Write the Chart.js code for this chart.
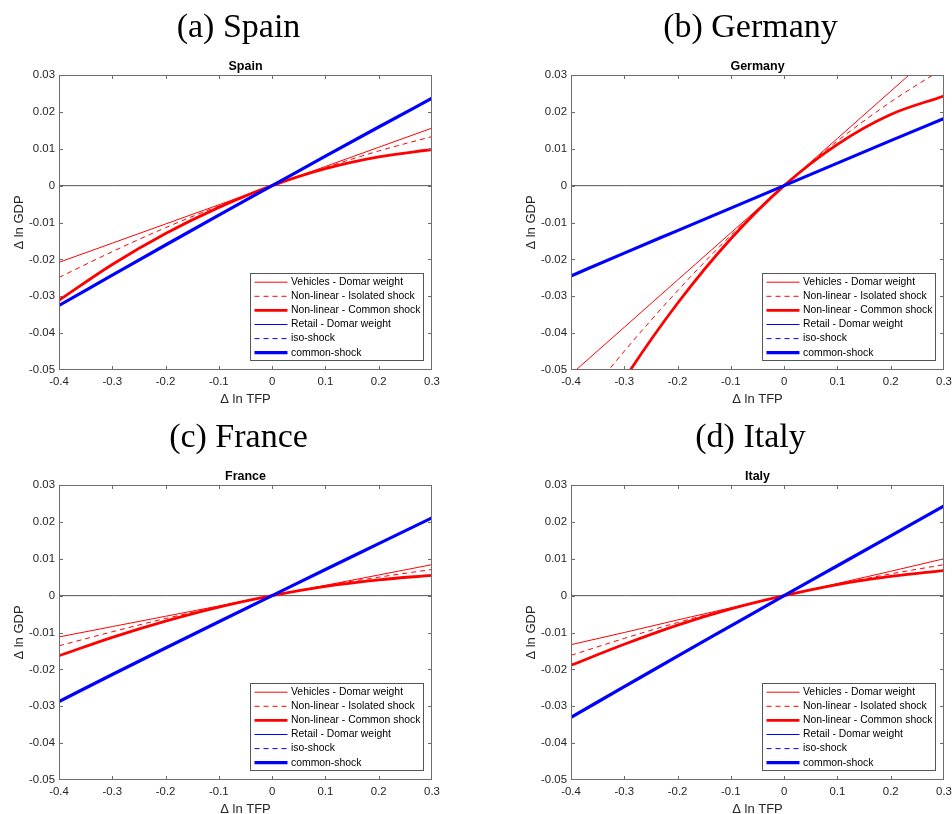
<!DOCTYPE html>
<html>
<head>
<meta charset="utf-8">
<script src="https://cdn.jsdelivr.net/npm/chart.js@4.4.1/dist/chart.umd.min.js"></script>
<style>
  html, body { margin: 0; padding: 0; background: #fff; overflow: hidden; width: 952px; height: 814px; }
  .panel { position: absolute; }
</style>
</head>
<body>
<div class="panel" style="left:0;top:0"><canvas id="spain" width="477" height="407"></canvas></div>
<div class="panel" style="left:512px;top:0"><canvas id="germany" width="477" height="407"></canvas></div>
<div class="panel" style="left:0;top:410px"><canvas id="france" width="477" height="407"></canvas></div>
<div class="panel" style="left:512px;top:410px"><canvas id="italy" width="477" height="407"></canvas></div>
<script>
// x values (shock to ln TFP)
var tfp = [-0.4, -0.3, -0.2, -0.1, 0, 0.1, 0.2, 0.3];

var legendLabels = ["Vehicles - Domar weight", "Non-linear - Isolated shock", "Non-linear - Common shock",
                    "Retail - Domar weight", "iso-shock", "common-shock"];

// Spain
var spainVehDomar    = [-0.0208, -0.0156, -0.0104, -0.0052, 0, 0.0052, 0.0104, 0.0156];
var spainVehIsolated = [-0.0249, -0.0179, -0.0114, -0.0055, 0, 0.0049, 0.0094, 0.0133];
var spainVehCommon   = [-0.0311, -0.0214, -0.0130, -0.0059, 0, 0.0046, 0.0078, 0.0098];
var spainRetDomar    = [-0.0324, -0.0242, -0.0161, -0.0080, 0, 0.0080, 0.0159, 0.0237];
var spainRetIso      = [-0.0324, -0.0242, -0.0161, -0.0080, 0, 0.0080, 0.0159, 0.0237];
var spainRetCommon   = [-0.0325, -0.0243, -0.0161, -0.0080, 0, 0.0080, 0.0159, 0.0237];

// Germany
var germanyVehDomar    = [-0.0512, -0.0384, -0.0256, -0.0128, 0, 0.0128, 0.0256, 0.0384];
var germanyVehIsolated = [-0.0627, -0.0449, -0.0285, -0.0135, 0, 0.0121, 0.0227, 0.0319];
var germanyVehCommon   = [-0.0763, -0.0525, -0.0319, -0.0144, 0, 0.0112, 0.0193, 0.0243];
var germanyRetDomar    = [-0.0245, -0.0183, -0.0122, -0.0061, 0, 0.0061, 0.0122, 0.0182];
var germanyRetIso      = [-0.0245, -0.0183, -0.0122, -0.0061, 0, 0.0061, 0.0122, 0.0182];
var germanyRetCommon   = [-0.0245, -0.0183, -0.0122, -0.0061, 0, 0.0061, 0.0122, 0.0182];

// France
var franceVehDomar    = [-0.0112, -0.0084, -0.0056, -0.0028, 0, 0.0028, 0.0056, 0.0084];
var franceVehIsolated = [-0.0136, -0.0098, -0.0062, -0.0030, 0, 0.0027, 0.0050, 0.0071];
var franceVehCommon   = [-0.0163, -0.0113, -0.0069, -0.0031, 0, 0.0025, 0.0043, 0.0055];
var franceRetDomar    = [-0.0287, -0.0214, -0.0142, -0.0071, 0, 0.0071, 0.0141, 0.0211];
var franceRetIso      = [-0.0287, -0.0214, -0.0142, -0.0071, 0, 0.0071, 0.0141, 0.0211];
var franceRetCommon   = [-0.0287, -0.0214, -0.0142, -0.0071, 0, 0.0071, 0.0141, 0.0211];

// Italy
var italyVehDomar    = [-0.0133, -0.0100, -0.0066, -0.0033, 0, 0.0033, 0.0066, 0.0100];
var italyVehIsolated = [-0.0162, -0.0116, -0.0073, -0.0035, 0, 0.0031, 0.0059, 0.0084];
var italyVehCommon   = [-0.0189, -0.0132, -0.0080, -0.0036, 0, 0.0030, 0.0052, 0.0068];
var italyRetDomar    = [-0.0330, -0.0247, -0.0164, -0.0082, 0, 0.0081, 0.0162, 0.0243];
var italyRetIso      = [-0.0330, -0.0247, -0.0164, -0.0082, 0, 0.0081, 0.0162, 0.0243];
var italyRetCommon   = [-0.0330, -0.0247, -0.0164, -0.0082, 0, 0.0081, 0.0162, 0.0243];

// line looks, same order as legendLabels
var lineStyles = [
  { color: "#ff0000", width: 1,   dash: [] },
  { color: "#ff0000", width: 1,   dash: [5, 4] },
  { color: "#ff0000", width: 2.8, dash: [] },
  { color: "#0000ff", width: 1,   dash: [] },
  { color: "#0000ff", width: 1,   dash: [5, 4] },
  { color: "#0000ff", width: 3.2, dash: [] }
];

Chart.defaults.font.family = "'Liberation Sans', Arial, sans-serif";
Chart.defaults.color = "#262626";

function toPoints(ys) {
  return tfp.map(function (x, i) { return { x: x, y: ys[i] }; });
}

function tickText(v) {
  return String(Number(v.toFixed(3)));
}

// MATLAB style box, inner tick marks and legend in the lower right corner
var matlabFrame = {
  id: "matlabFrame",
  afterDatasetsDraw: function (chart) {
    var ctx = chart.ctx, a = chart.chartArea;
    var xs = chart.scales.x, ys = chart.scales.y;
    ctx.save();
    ctx.strokeStyle = "#6e6e6e";
    ctx.lineWidth = 1;
    ctx.beginPath();
    xs.ticks.forEach(function (t, i) {
      if (i === 0 || i === xs.ticks.length - 1) return;
      var px = Math.round(xs.getPixelForValue(t.value)) + 0.5;
      ctx.moveTo(px, a.bottom); ctx.lineTo(px, a.bottom - 4);
      ctx.moveTo(px, a.top); ctx.lineTo(px, a.top + 4);
    });
    ys.ticks.forEach(function (t, i) {
      if (i === 0 || i === ys.ticks.length - 1) return;
      var py = Math.round(ys.getPixelForValue(t.value)) + 0.5;
      ctx.moveTo(a.left, py); ctx.lineTo(a.left + 4, py);
      ctx.moveTo(a.right, py); ctx.lineTo(a.right - 4, py);
    });
    ctx.stroke();
    ctx.strokeRect(a.left + 0.5, a.top + 0.5, a.right - a.left - 1, a.bottom - a.top - 1);

    // legend
    var w = 173, h = 87;
    var bx = Math.round(a.right - 9 - w) + 0.5, by = Math.round(a.bottom - 10 - h) + 0.5;
    ctx.fillStyle = "#fff";
    ctx.fillRect(bx, by, w, h);
    ctx.strokeStyle = "#555";
    ctx.strokeRect(bx, by, w, h);
    ctx.font = "10.4px 'Liberation Sans', Arial, sans-serif";
    ctx.textBaseline = "middle";
    var row = 0;
    chart.data.datasets.forEach(function (ds) {
      if (!ds.inLegend) return;
      var y = by + 8.7 + row * 14.1;
      ctx.save();
      ctx.strokeStyle = ds.borderColor;
      ctx.lineWidth = ds.borderWidth;
      ctx.setLineDash(ds.borderDash);
      ctx.beginPath();
      ctx.moveTo(bx + 4, y); ctx.lineTo(bx + 37, y);
      ctx.stroke();
      ctx.restore();
      ctx.fillStyle = "#000";
      ctx.fillText(ds.label, bx + 40.5, y);
      row++;
    });
    ctx.restore();
  }
};

function makeChart(id, heading, country, series) {
  var datasets = series.map(function (ys, i) {
    var s = lineStyles[i];
    return {
      label: legendLabels[i],
      data: toPoints(ys),
      borderColor: s.color,
      borderWidth: s.width,
      borderDash: s.dash,
      pointRadius: 0,
      fill: false,
      cubicInterpolationMode: "monotone",
      clip: 0,
      order: series.length - i,
      inLegend: true
    };
  });
  // zero line
  datasets.push({
    label: "zero",
    data: toPoints(tfp.map(function () { return 0; })),
    borderColor: "#555",
    borderWidth: 1,
    pointRadius: 0,
    fill: false,
    order: 20,
    inLegend: false
  });

  return new Chart(document.getElementById(id), {
    type: "line",
    data: { datasets: datasets },
    options: {
      responsive: false,
      animation: false,
      events: [],
      layout: { padding: 0 },
      plugins: {
        legend: { display: false },
        tooltip: { enabled: false },
        title: {
          display: true,
          text: heading,
          color: "#000",
          font: { family: "'Liberation Serif', 'Times New Roman', serif", size: 34, weight: "normal" },
          padding: { top: 7.8, bottom: 10.7 }
        },
        subtitle: {
          display: true,
          text: country,
          fullSize: false,
          color: "#000",
          font: { size: 12.5, weight: "bold" },
          padding: { top: 0, bottom: 0.7 }
        }
      },
      scales: {
        x: {
          type: "linear",
          min: -0.4,
          max: 0.3,
          grid: { display: false, drawTicks: false },
          border: { display: false },
          ticks: { stepSize: 0.1, font: { size: 11.4 }, padding: 5.5, maxRotation: 0, callback: tickText },
          title: { display: true, text: "\u0394 ln TFP", font: { size: 13 }, padding: { top: 0, bottom: 0 } },
          afterFit: function (s) { s.height = 37; }
        },
        y: {
          type: "linear",
          min: -0.05,
          max: 0.03,
          grid: { display: false, drawTicks: false },
          border: { display: false },
          ticks: { stepSize: 0.01, font: { size: 11.4 }, padding: 4, callback: tickText },
          title: { display: true, text: "\u0394 ln GDP", font: { size: 13 }, padding: { top: 11.6, bottom: 0 } },
          afterFit: function (s) { s.width = 59; }
        },
        // empty right margin so the big heading centres over the whole panel
        pad: {
          type: "linear",
          position: "right",
          display: true,
          grid: { display: false, drawTicks: false },
          border: { display: false },
          ticks: { display: false },
          afterFit: function (s) { s.width = 45; }
        }
      }
    },
    plugins: [matlabFrame]
  });
}

makeChart("spain", "(a) Spain", "Spain",
  [spainVehDomar, spainVehIsolated, spainVehCommon, spainRetDomar, spainRetIso, spainRetCommon]);
makeChart("germany", "(b) Germany", "Germany",
  [germanyVehDomar, germanyVehIsolated, germanyVehCommon, germanyRetDomar, germanyRetIso, germanyRetCommon]);
makeChart("france", "(c) France", "France",
  [franceVehDomar, franceVehIsolated, franceVehCommon, franceRetDomar, franceRetIso, franceRetCommon]);
makeChart("italy", "(d) Italy", "Italy",
  [italyVehDomar, italyVehIsolated, italyVehCommon, italyRetDomar, italyRetIso, italyRetCommon]);
</script>
</body>
</html>
